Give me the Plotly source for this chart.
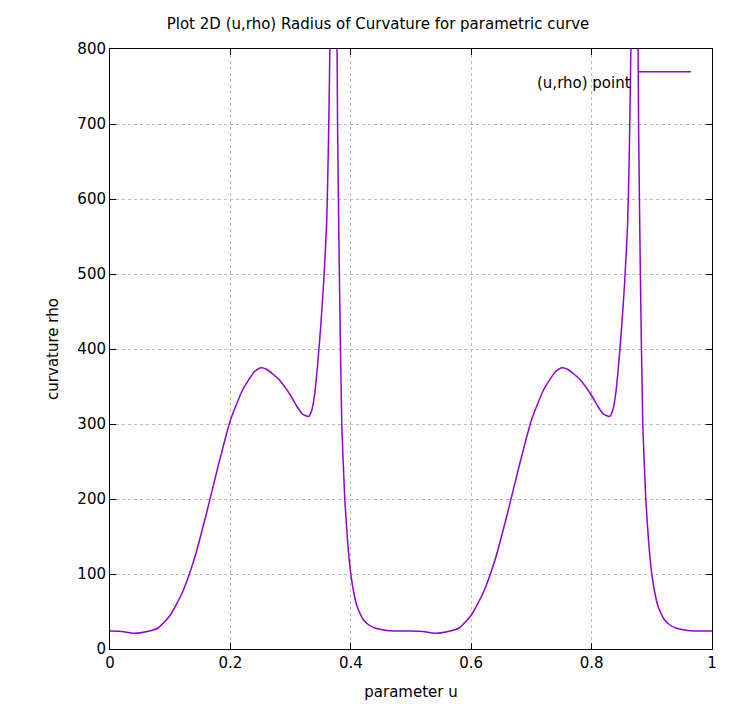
import plotly.graph_objects as go

# curve samples (u, rho)
u = [0, 0.02, 0.04, 0.06, 0.08, 0.10, 0.12, 0.14, 0.16, 0.18, 0.20, 0.22, 0.24, 0.25,
     0.26, 0.28, 0.30, 0.31, 0.32, 0.33, 0.335, 0.34, 0.345, 0.35, 0.355, 0.36, 0.363,
     0.366, 0.369, 0.372, 0.375, 0.378, 0.381, 0.385, 0.39, 0.395, 0.40, 0.405, 0.41,
     0.415, 0.42, 0.43, 0.44, 0.45, 0.47, 0.50,
     0.52, 0.54, 0.56, 0.58, 0.60, 0.62, 0.64, 0.66, 0.68, 0.70, 0.72, 0.74, 0.75,
     0.76, 0.78, 0.80, 0.81, 0.82, 0.83, 0.835, 0.84, 0.845, 0.85, 0.855, 0.86, 0.863,
     0.866, 0.869, 0.872, 0.875, 0.878, 0.881, 0.885, 0.89, 0.895, 0.90, 0.905, 0.91,
     0.915, 0.92, 0.93, 0.94, 0.95, 0.97, 1.0]
rho = [24, 23.5, 21, 23, 28, 45, 75, 120, 180, 245, 305, 345, 370, 375,
       373, 360, 338, 324, 313, 310, 318, 340, 380, 430, 490, 570, 680,
       850, 1500, 1500, 1100, 700, 500, 300, 200, 140, 100, 75, 58,
       48, 40, 32, 28, 26, 24, 24,
       23.5, 21, 23, 28, 45, 75, 120, 180, 245, 305, 345, 370, 375,
       373, 360, 338, 324, 313, 310, 318, 340, 380, 430, 490, 570, 680,
       850, 1500, 1500, 1100, 700, 500, 300, 200, 140, 100, 75, 58,
       48, 40, 32, 28, 26, 24, 24]

fnt = "DejaVu Sans"
fig = go.Figure()
fig.add_trace(go.Scatter(x=u, y=rho, mode="lines", name="(u,rho) point", showlegend=False,
                         line=dict(color="#9400d3", width=1.5, shape="spline", smoothing=0.5)))

# gnuplot-style key: text first, then line sample
fig.add_annotation(x=0.868, y=0.962, xref="paper", yref="paper", text="(u,rho) point",
                   showarrow=False, xanchor="right", font=dict(size=15))
fig.add_shape(type="line", xref="paper", yref="paper", x0=0.878, x1=0.965, y0=0.962, y1=0.962,
              line=dict(color="#9400d3", width=1.5))

ax = dict(showline=True, linecolor="black", linewidth=1, mirror="ticks", ticks="inside",
          ticklen=6, tickcolor="black", showgrid=True, gridcolor="#bbbbbb",
          griddash="dot", gridwidth=1, zeroline=False, tickfont=dict(size=15, color="black"))
fig.update_xaxes(ax, range=[0, 1], dtick=0.2, tickformat="~g",
                 title=dict(text="parameter u", font=dict(size=15, color="black")))
fig.update_yaxes(ax, range=[0, 800], dtick=100,
                 title=dict(text="curvature rho", font=dict(size=15, color="black")))
fig.update_layout(
    width=740, height=728, plot_bgcolor="white", paper_bgcolor="white",
    font=dict(family=fnt, color="black"),
    margin=dict(l=102, r=36, t=41, b=87),
    title=dict(text="Plot 2D (u,rho) Radius of Curvature for parametric curve",
               x=0.5, xanchor="center", y=0.985, font=dict(size=15)),
)
fig.write_html("out.html")
